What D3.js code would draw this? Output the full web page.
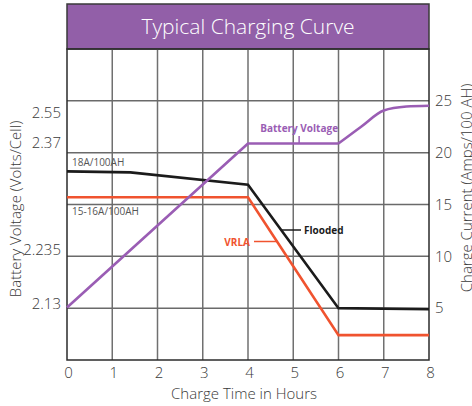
<!DOCTYPE html>
<html>
<head>
	<meta charset="utf-8">
	<title>Typical Charging Curve</title>
	<style type="text/css">
		body { margin: 0; background: #fff; }
		svg { display: block; font-family: "Open Sans", sans-serif; }
	</style>
</head>
<body>
<script src="https://cdn.jsdelivr.net/npm/d3@7"></script>
<script type="text/javascript">
	// data
	var hours = [0, 1, 2, 3, 4, 5, 6, 7, 8];
	var currentTicks = [5, 10, 15, 20, 25];
	var voltageTicks = [2.13, 2.235, 2.37, 2.55];

	var voltageHours = [0, 4, 6];
	var voltageValues = [2.13, 2.37, 2.37];
	var voltageRiseHours = [6, 6.5, 7, 7.5, 8];
	var voltageRiseValues = [2.37, 2.45, 2.527, 2.546, 2.55];

	var floodedHours = [0, 1.4, 4, 6, 8];
	var floodedValues = [18.2, 18.1, 16.9, 5.0, 4.9];
	var vrlaHours = [0, 4, 6, 8];
	var vrlaValues = [15.7, 15.7, 2.4, 2.4];

	// computed
	var w = 472, h = 406;
	var purple = "#9a5db4", red = "#f0532f", black = "#1b1b1b";

	var x = d3.scaleLinear().domain([0, 8]).range([67, 429]);
	var yI = d3.scaleLinear().domain([0, 30]).range([360, 49]);
	// voltage axis is not linear on the original, so piecewise
	var yV = d3.scaleLinear().domain([2.13, 2.37, 2.55]).range([307.5, 143.5, 105.7]);
	var yVLabel = d3.scaleLinear().domain(voltageTicks).range([308, 254, 147, 117]);

	var svg = d3.select("body").append("svg").attr("width", w).attr("height", h);

	/*===== title bar =====*/
	svg.append("rect")
		.attr("x", x(0)).attr("y", 4)
		.attr("width", x(8) - x(0)).attr("height", yI(30) - 4)
		.attr("fill", "#925fa8").attr("stroke", "#3a3a3a").attr("stroke-width", 1.5);
	svg.append("text")
		.attr("x", (x(0) + x(8)) / 2).attr("y", 34)
		.attr("text-anchor", "middle")
		.attr("fill", "#fff").attr("font-size", 21).attr("font-weight", 300)
		.text("Typical Charging Curve");

	/*===== grid =====*/
	svg.append("g").selectAll("line").data(hours.slice(1, 8)).enter().append("line")
		.attr("x1", d => x(d)).attr("x2", d => x(d))
		.attr("y1", yI(30)).attr("y2", yI(0))
		.attr("stroke", "#707070").attr("stroke-width", 1.5);
	svg.append("g").selectAll("line").data(currentTicks).enter().append("line")
		.attr("x1", x(0)).attr("x2", x(8))
		.attr("y1", d => yI(d)).attr("y2", d => yI(d))
		.attr("stroke", "#6a6a6a").attr("stroke-width", 1.5);
	svg.append("rect")
		.attr("x", x(0)).attr("y", yI(30))
		.attr("width", x(8) - x(0)).attr("height", yI(0) - yI(30))
		.attr("fill", "none").attr("stroke", "#2b2b2b").attr("stroke-width", 1.5);

	/*===== axes =====*/
	var axisFont = function(g) {
		g.select(".domain").remove();
		g.selectAll(".tick line").remove();
		g.selectAll("text").attr("font-size", 15).attr("font-weight", 300)
			.attr("fill", "#3a3a3a").attr("font-family", "Open Sans, sans-serif");
	};
	svg.append("g")
		.attr("transform", "translate(0," + yI(0) + ")")
		.call(d3.axisBottom(x).tickValues(hours).tickFormat(d3.format("d")).tickSize(0).tickPadding(7))
		.call(axisFont)
		.selectAll("text").attr("dx", 1);
	svg.append("g")
		.attr("transform", "translate(" + x(8) + ",0)")
		.call(d3.axisRight(yI).tickValues(currentTicks).tickSize(0).tickPadding(6))
		.call(axisFont);
	svg.append("g")
		.attr("transform", "translate(" + 61 + ",0)")
		.call(d3.axisLeft(yVLabel).tickValues(voltageTicks).tickFormat(d => d).tickSize(0).tickPadding(0))
		.call(axisFont)
		.selectAll("text").attr("dy", 0);

	svg.append("text")
		.attr("x", 244).attr("y", 399).attr("text-anchor", "middle")
		.attr("font-size", 15).attr("font-weight", 300).attr("fill", "#3a3a3a")
		.text("Charge Time in Hours");
	svg.append("text")
		.attr("transform", "translate(21,209) rotate(-90)").attr("text-anchor", "middle")
		.attr("font-size", 15).attr("font-weight", 300).attr("fill", "#3a3a3a")
		.text("Battery Voltage (Volts/Cell)");
	svg.append("text")
		.attr("transform", "translate(472,188) rotate(-90)").attr("text-anchor", "middle")
		.attr("font-size", 15).attr("font-weight", 300).attr("fill", "#3a3a3a")
		.text("Charge Current (Amps/100 AH)");

	/*===== lines =====*/
	var lineI = d3.line().x(d => x(d[0])).y(d => yI(d[1]));
	var lineV = d3.line().x(d => x(d[0])).y(d => yV(d[1]));

	svg.append("path").datum(d3.zip(vrlaHours, vrlaValues))
		.attr("d", lineI).attr("fill", "none").attr("stroke", red).attr("stroke-width", 2.6);
	svg.append("path").datum(d3.zip(floodedHours, floodedValues))
		.attr("d", lineI).attr("fill", "none").attr("stroke", black).attr("stroke-width", 2.6);
	svg.append("path").datum(d3.zip(voltageHours, voltageValues))
		.attr("d", lineV).attr("fill", "none").attr("stroke", purple).attr("stroke-width", 2.6)
		.attr("stroke-linejoin", "round");
	svg.append("path").datum(d3.zip(voltageRiseHours, voltageRiseValues))
		.attr("d", lineV.curve(d3.curveMonotoneX)).attr("fill", "none").attr("stroke", purple).attr("stroke-width", 2.6);

	/*===== labels =====*/
	svg.append("text").attr("x", x(0) + 5).attr("y", 166)
		.attr("font-size", 10).attr("fill", "#555").text("18A/100AH");
	svg.append("text").attr("x", x(0) + 5).attr("y", 215)
		.attr("font-size", 10).attr("fill", "#555").text("15-16A/100AH");

	// Battery Voltage callout
	svg.append("text").attr("x", x(5.13)).attr("y", 132).attr("text-anchor", "middle")
		.attr("font-size", 10).attr("font-weight", 700).attr("fill", purple).text("Battery Voltage");
	svg.append("line").attr("x1", x(5.13)).attr("x2", x(5.13)).attr("y1", 136).attr("y2", yV(2.37))
		.attr("stroke", purple).attr("stroke-width", 1.5);

	// Flooded callout
	svg.append("line").attr("x1", 282).attr("x2", 301).attr("y1", 230).attr("y2", 230)
		.attr("stroke", black).attr("stroke-width", 1.5);
	svg.append("text").attr("x", 304).attr("y", 234)
		.attr("font-size", 10).attr("font-weight", 700).attr("fill", black).text("Flooded");

	// VRLA callout
	svg.append("line").attr("x1", 254).attr("x2", 276).attr("y1", 241.5).attr("y2", 241.5)
		.attr("stroke", red).attr("stroke-width", 1.5);
	svg.append("text").attr("x", 250).attr("y", 246).attr("text-anchor", "end")
		.attr("font-size", 10).attr("font-weight", 700).attr("fill", red).text("VRLA");
</script>
</body>
</html>
